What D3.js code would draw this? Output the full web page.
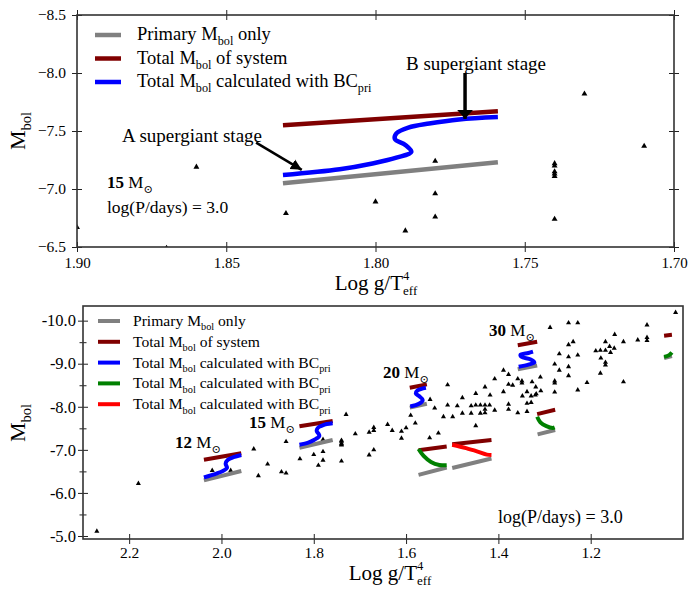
<!DOCTYPE html>
<html>
<head>
<meta charset="utf-8">
<script src="https://cdn.jsdelivr.net/npm/d3@7"></script>
<style>
body { margin: 0; background: #fff; }
svg { display: block; }
text { font-family: "Liberation Serif", "DejaVu Serif", serif; fill: #000; }
</style>
</head>
<body>
<svg id="chart" width="690" height="589"></svg>
<script>
// observed stars: [log g/Teff^4, Mbol]
var stars = [
  [2.27,-5.11],[2.18,-6.22],[2.02,-6.52],[1.98,-6.52],[1.93,-7.02],[1.92,-6.40],[1.90,-6.67],
  [1.87,-6.49],[1.86,-6.46],[1.86,-7.19],[1.83,-6.79],[1.80,-6.89],[1.79,-6.64],[1.78,-7.24],
  [1.78,-6.96],[1.78,-6.76],[1.74,-7.22],[1.74,-7.20],[1.74,-7.15],[1.74,-7.13],[1.74,-7.11],
  [1.74,-6.74],[1.73,-7.82],[1.71,-7.37],
  [1.68,-7.41],[1.68,-6.88],[1.67,-7.52],[1.67,-7.45],[1.67,-7.00],[1.64,-7.59],[1.63,-7.45],
  [1.61,-7.43],[1.61,-7.27],[1.60,-7.51],[1.59,-7.80],[1.58,-7.62],
  [1.548,-8.17],[1.549,-7.28],[1.538,-7.97],[1.530,-7.39],[1.519,-7.77],[1.510,-8.04],[1.510,-8.51],
  [1.499,-7.77],[1.489,-8.02],[1.478,-8.21],[1.478,-7.85],[1.459,-8.02],[1.459,-7.85],[1.449,-8.31],
  [1.449,-8.04],[1.449,-7.56],[1.439,-8.04],[1.439,-7.85],
  [1.429,-8.46],[1.429,-8.04],[1.429,-7.94],[1.429,-7.86],[1.419,-8.04],[1.418,-8.27],[1.408,-8.65],
  [1.408,-7.92],[1.389,-8.85],[1.389,-8.35],[1.378,-8.75],[1.378,-8.52],[1.378,-8.06],[1.378,-7.94],
  [1.369,-8.50],[1.358,-8.65],[1.358,-7.86],[1.349,-8.60],[1.349,-8.55],[1.348,-8.25],[1.338,-8.35],
  [1.338,-8.08],[1.338,-7.89],[1.329,-8.25],[1.329,-8.10],[1.327,-8.58],[1.320,-8.27],[1.319,-8.46],
  [1.318,-8.30],[1.309,-8.69],[1.308,-8.37],
  [1.288,-9.84],[1.278,-8.99],[1.278,-8.60],[1.278,-8.55],[1.278,-8.34],[1.268,-9.23],[1.268,-8.85],
  [1.248,-9.95],[1.248,-9.44],[1.248,-9.16],[1.248,-8.93],[1.248,-8.72],[1.238,-9.51],[1.228,-9.95],
  [1.228,-9.20],[1.228,-8.39],[1.208,-8.56],[1.189,-9.30],[1.179,-9.31],[1.179,-8.78],[1.178,-9.13],
  [1.168,-9.51],[1.168,-9.31],[1.168,-9.03],[1.168,-8.97],[1.159,-9.40],[1.157,-9.26],[1.149,-9.36],
  [1.148,-9.68],[1.129,-9.51],[1.129,-8.58],[1.098,-9.55],[1.078,-9.90],[1.078,-9.61],[1.078,-9.54],
  [1.016,-10.19]
];

// model tracks
var primary12 = [[2.038,-6.29],[1.957,-6.51]];
var total12   = [[2.038,-6.77],[1.957,-6.92]];
var bc12      = [[2.038,-6.36],[2.011,-6.45],[1.997,-6.51],[1.988,-6.58],[1.991,-6.68],[1.986,-6.77],[1.974,-6.83],[1.957,-6.88]];

var primary15 = [[1.831,-7.05],[1.759,-7.23]];
var total15   = [[1.831,-7.55],[1.759,-7.67]];
var bc15      = [[1.831,-7.12],[1.812,-7.17],[1.801,-7.22],[1.793,-7.27],[1.788,-7.32],[1.790,-7.38],[1.7935,-7.43],
                 [1.793,-7.48],[1.789,-7.53],[1.782,-7.565],[1.772,-7.60],[1.759,-7.62]];

var primary20 = [[1.592,-7.98],[1.555,-8.07]];
var total20   = [[1.592,-8.44],[1.555,-8.52]];
var bc20      = [[1.591,-8.01],[1.572,-8.07],[1.564,-8.16],[1.572,-8.25],[1.579,-8.31],[1.575,-8.38],[1.557,-8.44]];

var primary30 = [[1.358,-8.87],[1.316,-8.96]];
var total30   = [[1.358,-9.43],[1.316,-9.51]];
var bc30      = [[1.356,-8.93],[1.335,-8.98],[1.322,-9.03],[1.330,-9.10],[1.350,-9.16],[1.352,-9.21],[1.335,-9.25],[1.325,-9.28]];

var primaryG1 = [[1.573,-6.42],[1.512,-6.59]];
var totalG1   = [[1.573,-6.99],[1.512,-7.08]];
var greenG1   = [[1.573,-7.02],[1.562,-6.86],[1.546,-6.72],[1.528,-6.65],[1.512,-6.64]];

var primaryR  = [[1.500,-6.58],[1.415,-6.80]];
var totalR    = [[1.500,-7.13],[1.415,-7.23]];
var redR      = [[1.500,-7.12],[1.470,-7.04],[1.445,-6.96],[1.425,-6.89],[1.415,-6.88]];

var primaryG2 = [[1.315,-7.36],[1.277,-7.46]];
var totalG2   = [[1.316,-7.83],[1.277,-7.93]];
var greenG2   = [[1.316,-7.77],[1.309,-7.64],[1.296,-7.55],[1.282,-7.51],[1.278,-7.52]];

var primaryG3 = [[1.041,-9.13],[1.024,-9.18]];
var totalG3   = [[1.041,-9.65],[1.024,-9.67]];
var greenG3   = [[1.041,-9.16],[1.030,-9.20],[1.024,-9.26]];

// ticks
var xTicksTop = [1.90, 1.85, 1.80, 1.75, 1.70];
var yTicksTop = [-8.5, -8.0, -7.5, -7.0, -6.5];
var xTicksBot = [2.2, 2.0, 1.8, 1.6, 1.4, 1.2];
var yTicksBot = [-10, -9, -8, -7, -6, -5];
var yMinorBot = [-9.5, -8.5, -7.5, -6.5, -5.5];

// annotation arrows (data coords, top panel)
var arrowA = [[1.840,-7.40],[1.8247,-7.165]];
var arrowB = [[1.770,-8.00],[1.770,-7.596]];

var GRAY = "#808080", DRED = "#800000", BLUE = "#0000ff", GREEN = "#008000", RED = "#ff0000";

var svg = d3.select("#chart");

var xTop = d3.scaleLinear().domain([1.90, 1.70]).range([77, 674]);
var yTop = d3.scaleLinear().domain([-6.5, -8.5]).range([247, 15]);
var xBot = d3.scaleLinear().domain([2.3, 1.0]).range([83, 683]);
var yBot = d3.scaleLinear().domain([-4.93, -10.34]).range([539, 306]);

// text with sub / superscripts
function richText(g, x, y, parts, size, anchor) {
    var t = g.append("text").attr("x", x).attr("y", y)
        .style("font-size", size + "px")
        .attr("text-anchor", anchor || "start");
    var shift = 0;
    parts.forEach(function(p) {
        if (typeof p === "string") p = {t: p};
        var target = 0, txt = p.t, fs = size;
        if (p.sub !== undefined) {
            target = size * (p.sup !== undefined ? 0.24 : 0.28);
            txt = p.sub;
            fs = size * (p.sup !== undefined ? 0.62 : 0.66);
        }
        var ts = t.append("tspan").attr("dy", target - shift).style("font-size", fs + "px").text(txt);
        if (p.bold) ts.style("font-weight", "bold");
        shift = target;
        if (p.sup !== undefined) {
            var len = ts.node().getComputedTextLength();
            var up = -size * 0.46;
            t.append("tspan").attr("dx", -len).attr("dy", up - shift)
                .style("font-size", (size * 0.6) + "px").text(p.sup);
            shift = up;
        }
    });
    return t;
}

var defs = svg.append("defs");
defs.append("clipPath").attr("id", "clipTop").append("rect")
    .attr("x", 77).attr("y", 15).attr("width", 597).attr("height", 232);
defs.append("clipPath").attr("id", "clipBot").append("rect")
    .attr("x", 83).attr("y", 306).attr("width", 600).attr("height", 233);

function addHead(id, w, l) {
    defs.append("marker").attr("id", id)
        .attr("markerUnits", "userSpaceOnUse")
        .attr("markerWidth", l + 2).attr("markerHeight", w + 2)
        .attr("viewBox", "0 " + (-w / 2 - 1) + " " + (l + 2) + " " + (w + 2))
        .attr("refX", l).attr("refY", 0).attr("orient", "auto")
        .append("path").attr("d", "M0," + (-w / 2) + "L" + l + ",0L0," + (w / 2) + "Z").attr("fill", "#000");
}
addHead("headA", 11, 11);
addHead("headB", 16, 9);

function styleAxis(sel, fs) {
    sel.select(".domain").remove();
    sel.selectAll(".tick line").attr("stroke", "#222").attr("stroke-width", 1);
    sel.selectAll(".tick text").style("font-size", fs + "px")
        .style("font-family", '"Liberation Serif", serif').attr("fill", "#000");
}

// ---------------- top panel ----------------
var gTop = svg.append("g");
var pTop = gTop.append("g").attr("clip-path", "url(#clipTop)");

pTop.selectAll("path.star").data(stars).enter().append("path")
    .attr("class", "star")
    .attr("d", d3.symbol().type(d3.symbolTriangle).size(15))
    .attr("transform", function(d) { return "translate(" + xTop(d[0]) + "," + yTop(d[1]) + ")"; })
    .attr("fill", "#000");

var lineTop = d3.line().x(function(d) { return xTop(d[0]); }).y(function(d) { return yTop(d[1]); })
    .curve(d3.curveCatmullRom);
[[primary15, GRAY], [total15, DRED], [bc15, BLUE]].forEach(function(s) {
    pTop.append("path").datum(s[0]).attr("d", lineTop)
        .attr("fill", "none").attr("stroke", s[1]).attr("stroke-width", 4.5);
});

var axB = gTop.append("g").attr("transform", "translate(0,247)")
    .call(d3.axisBottom(xTop).tickValues(xTicksTop).tickFormat(d3.format(".2f")).tickSize(5).tickPadding(5));
axB.selectAll(".tick line").attr("y1", -5);
styleAxis(axB, 15);
var axT = gTop.append("g").attr("transform", "translate(0,15)")
    .call(d3.axisTop(xTop).tickValues(xTicksTop).tickFormat("").tickSize(5));
axT.selectAll(".tick line").attr("y1", 5);
styleAxis(axT, 15);
var axL = gTop.append("g").attr("transform", "translate(77,0)")
    .call(d3.axisLeft(yTop).tickValues(yTicksTop).tickFormat(d3.format(".1f")).tickSize(5).tickPadding(6));
axL.selectAll(".tick line").attr("x1", 5);
styleAxis(axL, 15.5);
var axR = gTop.append("g").attr("transform", "translate(674,0)")
    .call(d3.axisRight(yTop).tickValues(yTicksTop).tickFormat("").tickSize(5));
axR.selectAll(".tick line").attr("x1", -5);
styleAxis(axR, 15);

gTop.append("rect").attr("x", 77).attr("y", 15).attr("width", 597).attr("height", 232)
    .attr("fill", "none").attr("stroke", "#333").attr("stroke-width", 1.6);

// legend
var legTop = [["Primary ", GRAY, " only"], ["Total ", DRED, " of system"], ["Total ", BLUE, " calculated with BC"]];
legTop.forEach(function(r, i) {
    var yy = 35 + i * 23.5;
    gTop.append("line").attr("x1", 95).attr("x2", 121).attr("y1", yy).attr("y2", yy)
        .attr("stroke", r[1]).attr("stroke-width", 4.5);
    var parts = [r[0], "M", {sub: "bol"}, r[2]];
    if (i === 2) parts.push({sub: "pri"});
    richText(gTop, 137, yy + 5, parts, 18.5);
});

richText(gTop, 107, 188, [{t: "15", bold: true}, " M", {sub: "\u2299"}], 17);
richText(gTop, 107, 213, ["log(P/days) = 3.0"], 17.5);

gTop.append("text").attr("x", 122).attr("y", 142).style("font-size", "19px").text("A supergiant stage");
gTop.append("text").attr("x", 406).attr("y", 70).style("font-size", "19px").text("B supergiant stage");

gTop.append("line")
    .attr("x1", xTop(arrowA[0][0])).attr("y1", yTop(arrowA[0][1]))
    .attr("x2", xTop(arrowA[1][0])).attr("y2", yTop(arrowA[1][1]))
    .attr("stroke", "#000").attr("stroke-width", 2.5).attr("marker-end", "url(#headA)");
gTop.append("line")
    .attr("x1", xTop(arrowB[0][0])).attr("y1", yTop(arrowB[0][1]))
    .attr("x2", xTop(arrowB[1][0])).attr("y2", yTop(arrowB[1][1]) - 1)
    .attr("stroke", "#000").attr("stroke-width", 3.5).attr("marker-end", "url(#headB)");

richText(gTop, 376, 290, ["Log g/T", {sub: "eff", sup: "4"}], 21, "middle");
var yl1 = richText(gTop, 0, 0, ["M", {sub: "bol"}], 22, "middle");
yl1.attr("transform", "translate(25,131) rotate(-90)");

// ---------------- bottom panel ----------------
var gBot = svg.append("g");
var pBot = gBot.append("g").attr("clip-path", "url(#clipBot)");

pBot.selectAll("path.star").data(stars).enter().append("path")
    .attr("class", "star")
    .attr("d", d3.symbol().type(d3.symbolTriangle).size(11))
    .attr("transform", function(d) { return "translate(" + xBot(d[0]) + "," + yBot(d[1]) + ")"; })
    .attr("fill", "#000");

var lineBot = d3.line().x(function(d) { return xBot(d[0]); }).y(function(d) { return yBot(d[1]); })
    .curve(d3.curveCatmullRom);
var tracksBot = [
    [primary12, GRAY], [total12, DRED], [bc12, BLUE],
    [primary15, GRAY], [total15, DRED], [bc15, BLUE],
    [primary20, GRAY], [total20, DRED], [bc20, BLUE],
    [primary30, GRAY], [total30, DRED], [bc30, BLUE],
    [primaryG1, GRAY], [totalG1, DRED], [greenG1, GREEN],
    [primaryR, GRAY], [totalR, DRED], [redR, RED],
    [primaryG2, GRAY], [totalG2, DRED], [greenG2, GREEN],
    [primaryG3, GRAY], [totalG3, DRED], [greenG3, GREEN]
];
tracksBot.forEach(function(s) {
    pBot.append("path").datum(s[0]).attr("d", lineBot)
        .attr("fill", "none").attr("stroke", s[1]).attr("stroke-width", 4);
});

var bx = gBot.append("g").attr("transform", "translate(0,539)")
    .call(d3.axisBottom(xBot).tickValues(xTicksBot).tickFormat(d3.format(".1f")).tickSize(5).tickPadding(3));
bx.selectAll(".tick line").attr("y1", -5);
styleAxis(bx, 15.5);
var by = gBot.append("g").attr("transform", "translate(83,0)")
    .call(d3.axisLeft(yBot).tickValues(yTicksBot).tickFormat(function(d) { return d.toFixed(1); }).tickSize(5).tickPadding(2));
by.selectAll(".tick line").attr("x1", 5);
styleAxis(by, 16.5);
var bym = gBot.append("g").attr("transform", "translate(83,0)")
    .call(d3.axisLeft(yBot).tickValues(yMinorBot).tickFormat("").tickSize(3.5));
bym.selectAll(".tick line").attr("x1", 3.5);
styleAxis(bym, 14);

gBot.append("rect").attr("x", 83).attr("y", 306).attr("width", 600).attr("height", 233)
    .attr("fill", "none").attr("stroke", "#333").attr("stroke-width", 1.6);

var legBot = [["Primary ", GRAY, " only"], ["Total ", DRED, " of system"],
              ["Total ", BLUE, " calculated with BC"], ["Total ", GREEN, " calculated with BC"],
              ["Total ", RED, " calculated with BC"]];
legBot.forEach(function(r, i) {
    var yy = 321 + i * 20.8;
    gBot.append("line").attr("x1", 98).attr("x2", 120).attr("y1", yy).attr("y2", yy)
        .attr("stroke", r[1]).attr("stroke-width", 4);
    var parts = [r[0], "M", {sub: "bol"}, r[2]];
    if (i >= 2) parts.push({sub: "pri"});
    richText(gBot, 133, yy + 5, parts, 15.6);
});

[["12", 175, 448], ["15", 249, 428], ["20", 383, 378], ["30", 489, 336]].forEach(function(m) {
    richText(gBot, m[1], m[2], [{t: m[0], bold: true}, " M", {sub: "\u2299"}], 17);
});
richText(gBot, 498, 523, ["log(P/days) = 3.0"], 18);

richText(gBot, 390, 580, ["Log g/T", {sub: "eff", sup: "4"}], 21, "middle");
var yl2 = richText(gBot, 0, 0, ["M", {sub: "bol"}], 22, "middle");
yl2.attr("transform", "translate(25,423) rotate(-90)");
</script>
</body>
</html>
